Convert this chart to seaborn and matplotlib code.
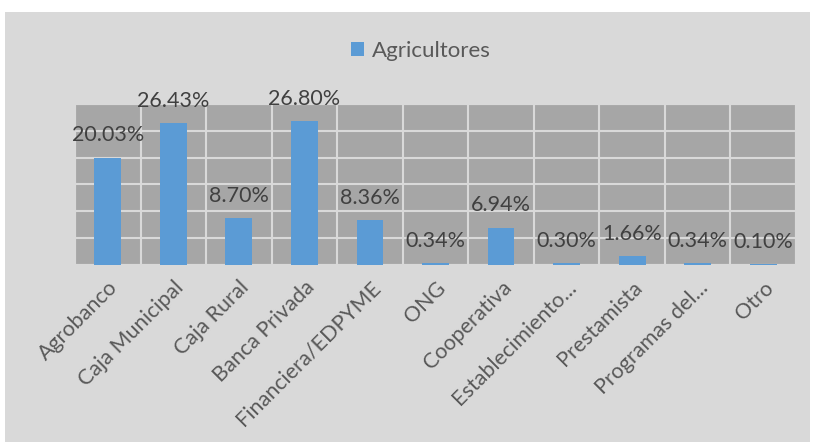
import matplotlib
matplotlib.use("Agg")
import matplotlib.pyplot as plt
import matplotlib.patches as mpatches
import numpy as np
import pandas as pd
import seaborn as sns

categorias = ["Agrobanco", "Caja Municipal", "Caja Rural", "Banca Privada",
              "Financiera/EDPYME", "ONG", "Cooperativa", "Establecimiento...",
              "Prestamista", "Programas del...", "Otro"]
valores = [20.03, 26.43, 8.70, 26.80, 8.36, 0.34, 6.94, 0.30, 1.66, 0.34, 0.10]
serie = "Agricultores"

df = pd.DataFrame({"categoria": categorias, "valor": valores, "serie": serie})

sns.set_style("white")
plt.rcParams["font.family"] = ["Lato", "DejaVu Sans"]

fig = plt.figure(figsize=(8.14, 4.48), dpi=100)
fig.patch.set_facecolor("white")
# fondo gris del area del grafico
fig.patches.append(mpatches.Rectangle((5 / 814, 1 - 442 / 448), 805 / 814, 430 / 448,
                                      transform=fig.transFigure, facecolor="#d9d9d9",
                                      edgecolor="none", zorder=-10))

ax = fig.add_axes([75 / 814, 1 - 265 / 448, 721 / 814, 161 / 448])
ax.set_facecolor("#a6a6a6")
sns.barplot(data=df, x="categoria", y="valor", hue="serie", palette=["#5b9bd5"],
            width=0.41, saturation=1, linewidth=0, ax=ax, zorder=3)

ax.set_ylim(0, 30)
ax.set_xlim(-0.5, len(categorias) - 0.5)
ax.set_yticks(np.arange(0, 31, 5))
ax.set_xticks(np.arange(-0.5, len(categorias), 1), minor=True)
ax.set_axisbelow(True)
ax.grid(axis="y", which="major", color="#d9d9d9", lw=1.5)
ax.grid(axis="x", which="minor", color="#d9d9d9", lw=1.5)
ax.tick_params(axis="y", left=False, labelleft=False)
ax.tick_params(axis="x", which="both", bottom=False, length=0, pad=9)
for s in ax.spines.values():
    s.set_color("#d9d9d9")
    s.set_linewidth(1.5)
ax.set_xlabel("")
ax.set_ylabel("")

plt.setp(ax.get_xticklabels(), rotation=45, ha="right", rotation_mode="anchor",
         fontsize=15.5, color="#595959")

for i, v in enumerate(valores):
    ax.annotate(f"{v:.2f}%", (i, v), xytext=(0, 9), textcoords="offset points",
                ha="center", va="bottom", fontsize=15.5, color="#404040", zorder=5,
                annotation_clip=False)

leg = ax.legend(loc="center", bbox_to_anchor=(421 / 814, 1 - 51 / 448),
                bbox_transform=fig.transFigure, frameon=False, fontsize=16,
                handlelength=0.6, handleheight=0.6, handletextpad=0.35)
for t in leg.get_texts():
    t.set_color("#595959")

fig.savefig("out.png", dpi=100)
